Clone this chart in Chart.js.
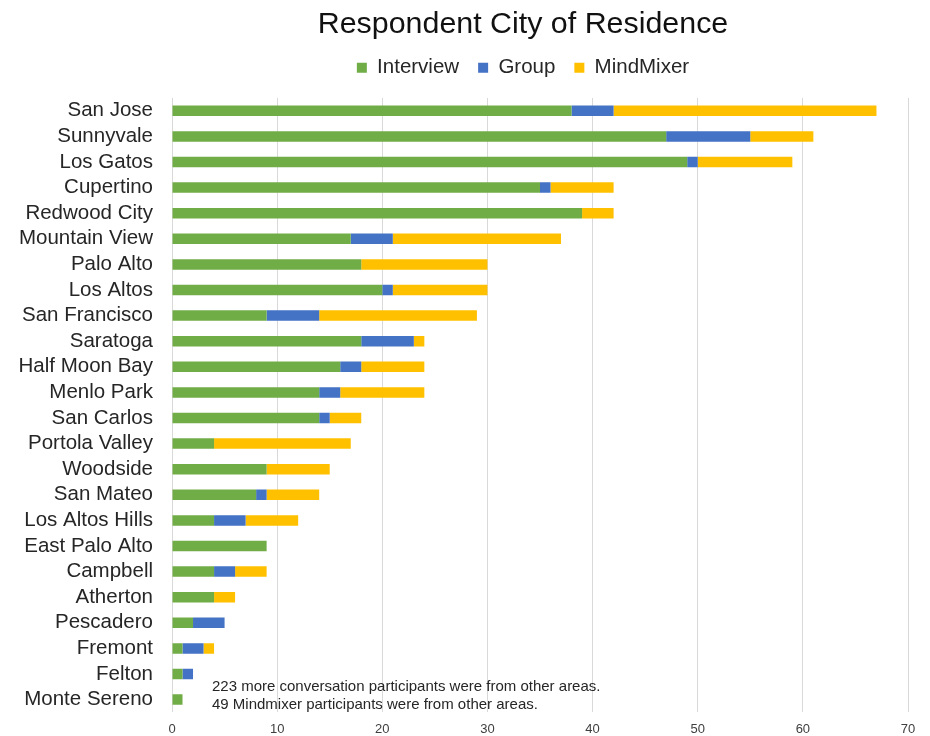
<!DOCTYPE html>
<html>
<head>
<meta charset="utf-8">
<script src="https://cdn.jsdelivr.net/npm/chart.js@4/dist/chart.umd.min.js"></script>
<style>
  html, body { margin: 0; padding: 0; background: #ffffff; }
  #wrap { width: 930px; height: 736px; position: relative; }
</style>
</head>
<body>
<div id="wrap"><canvas id="c" width="930" height="736"></canvas></div>
<script>
const cities = ["San Jose","Sunnyvale","Los Gatos","Cupertino","Redwood City","Mountain View","Palo Alto","Los Altos","San Francisco","Saratoga","Half Moon Bay","Menlo Park","San Carlos","Portola Valley","Woodside","San Mateo","Los Altos Hills","East Palo Alto","Campbell","Atherton","Pescadero","Fremont","Felton","Monte Sereno"];
const interview = [38,47,49,35,39,17,18,20,9,18,16,14,14,4,9,8,4,9,4,4,2,1,1,1];
const group     = [4,8,1,1,0,4,0,1,5,5,2,2,1,0,0,1,3,0,2,0,3,2,1,0];
const mindmixer = [25,6,9,6,3,16,12,9,15,1,6,8,3,13,6,5,5,0,3,2,0,1,0,0];
const seriesNames = ["Interview","Group","MindMixer"];
const xTicks = [0,10,20,30,40,50,60,70];
const titleText = "Respondent City of Residence";
const noteLines = ["223 more conversation participants were from other areas.","49 Mindmixer participants were from other areas."];

const FONT = "'Liberation Sans', Arial, sans-serif";

const notePlugin = {
  id: 'notes',
  afterLayout(chart) {
    // shift title & legend to match the reference placement
    const dx = 69;
    if (chart.titleBlock) { chart.titleBlock.left += dx; chart.titleBlock.right += dx; }
    if (chart.legend) {
      chart.legend.left += dx; chart.legend.right += dx;
      chart.legend.top -= 10; chart.legend.bottom -= 10;
    }
  },
  afterDatasetsDraw(chart) {
    const {ctx, scales} = chart;
    const x = scales.x.getPixelForValue(3.8);
    ctx.save();
    ctx.font = "15px " + FONT;
    ctx.fillStyle = "#262626";
    ctx.textAlign = "left";
    ctx.textBaseline = "middle";
    ctx.fillText(noteLines[0], x, scales.y.getPixelForValue(22.5));
    ctx.fillText(noteLines[1], x, scales.y.getPixelForValue(23.2));
    ctx.restore();
  }
};

new Chart(document.getElementById('c'), {
  type: 'bar',
  data: {
    labels: cities,
    datasets: [
      { label: seriesNames[0], data: interview, backgroundColor: '#70AD47' },
      { label: seriesNames[1], data: group, backgroundColor: '#4472C4' },
      { label: seriesNames[2], data: mindmixer, backgroundColor: '#FFC000' }
    ]
  },
  options: {
    indexAxis: 'y',
    responsive: false,
    animation: false,
    devicePixelRatio: 1,
    layout: { padding: { left: 0, right: 22, top: 0, bottom: -10 } },
    datasets: { bar: { barPercentage: 0.41, categoryPercentage: 1.0 } },
    scales: {
      x: {
        stacked: true,
        min: 0, max: 70,
        afterBuildTicks(scale) { scale.ticks = xTicks.map(v => ({ value: v })); },
        grid: { color: '#d9d9d9', lineWidth: 1, drawTicks: false },
        border: { display: false },
        ticks: { color: '#404040', font: { family: FONT, size: 13 }, padding: 9 }
      },
      y: {
        stacked: true,
        afterFit(scale) { scale.width = 172; scale.paddingTop = 0; scale.paddingBottom = 0; },
        grid: { display: false, drawTicks: false },
        border: { display: false },
        ticks: { color: '#262626', font: { family: FONT, size: 20.5 }, padding: 19, autoSkip: false }
      }
    },
    plugins: {
      title: {
        display: true, text: titleText, color: '#111111',
        font: { family: FONT, size: 30.4, weight: 'normal' },
        padding: { top: 6, bottom: 6 }
      },
      legend: {
        display: true, position: 'top',
        labels: { color: '#262626', font: { family: FONT, size: 20.5 }, boxWidth: 10, boxHeight: 10, padding: 19 }
      },
      tooltip: { enabled: false }
    }
  },
  plugins: [notePlugin]
});
</script>
</body>
</html>
